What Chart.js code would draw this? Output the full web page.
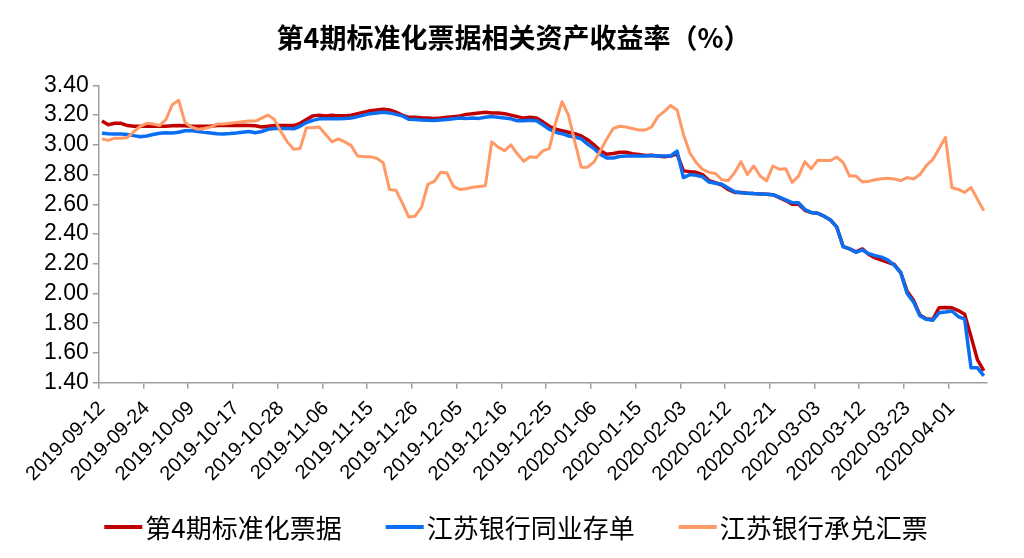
<!DOCTYPE html>
<html>
<head>
<meta charset="utf-8">
<script src="https://cdn.jsdelivr.net/npm/chart.js@4.4.0/dist/chart.umd.min.js"></script>
<style>
  html, body { margin: 0; padding: 0; background: #fff; }
  #wrap { width: 1024px; height: 558px; }
</style>
</head>
<body>
<div id="wrap"><canvas id="chart" width="1024" height="558"></canvas></div>
<script>
// Tick labels, one every 7 trading days
const tickLabels = ['2019-09-12', '2019-09-24', '2019-10-09', '2019-10-17', '2019-10-28',
  '2019-11-06', '2019-11-15', '2019-11-26', '2019-12-05', '2019-12-16', '2019-12-25',
  '2020-01-06', '2020-01-15', '2020-02-03', '2020-02-12', '2020-02-21', '2020-03-03',
  '2020-03-12', '2020-03-23', '2020-04-01'];

const seriesNames = ['第4期标准化票据', '江苏银行同业存单', '江苏银行承兑汇票'];

// 第4期标准化票据
const red = [
  3.16, 3.135, 3.145, 3.145, 3.13, 3.125, 3.125, 3.125, 3.125, 3.125,
  3.125, 3.128, 3.13, 3.128, 3.125, 3.125, 3.125, 3.125, 3.13, 3.13,
  3.13, 3.13, 3.132, 3.13, 3.128, 3.12, 3.125, 3.13, 3.13, 3.13,
  3.13, 3.145, 3.17, 3.195, 3.20, 3.195, 3.20, 3.195, 3.195, 3.20,
  3.21, 3.22, 3.23, 3.235, 3.24, 3.235, 3.22, 3.20, 3.185, 3.185,
  3.182, 3.18, 3.178, 3.18, 3.185, 3.19, 3.195, 3.205, 3.21, 3.215,
  3.22, 3.215, 3.215, 3.21, 3.20, 3.19, 3.18, 3.185, 3.18, 3.155,
  3.125, 3.105, 3.095, 3.085, 3.075, 3.06, 3.035, 3.00, 2.96, 2.937,
  2.942, 2.95, 2.95, 2.94, 2.935, 2.928, 2.93, 2.925, 2.92, 2.925,
  2.94, 2.825, 2.82, 2.815, 2.80, 2.76, 2.745, 2.73, 2.70, 2.68,
  2.68, 2.675, 2.672, 2.67, 2.668, 2.665, 2.645, 2.625, 2.60, 2.60,
  2.56, 2.545, 2.54, 2.52, 2.495, 2.446, 2.315, 2.30, 2.28, 2.30,
  2.262, 2.24, 2.225, 2.21, 2.195, 2.14, 2.015, 1.955, 1.855, 1.83,
  1.825, 1.904, 1.905, 1.904, 1.885, 1.86, 1.71, 1.555, 1.48
];

// 江苏银行同业存单
const blue = [
  3.078, 3.075, 3.073, 3.073, 3.07, 3.062, 3.055, 3.06, 3.07, 3.078,
  3.082, 3.08, 3.085, 3.095, 3.096, 3.09, 3.084, 3.08, 3.075, 3.073,
  3.076, 3.08, 3.085, 3.09, 3.082, 3.09, 3.105, 3.11, 3.11, 3.11,
  3.108, 3.125, 3.15, 3.165, 3.175, 3.175, 3.175, 3.176, 3.177, 3.18,
  3.19, 3.20, 3.21, 3.215, 3.22, 3.215, 3.205, 3.195, 3.172, 3.17,
  3.167, 3.165, 3.164, 3.168, 3.17, 3.175, 3.18, 3.178, 3.18, 3.178,
  3.186, 3.19, 3.185, 3.18, 3.175, 3.162, 3.162, 3.165, 3.162, 3.135,
  3.105, 3.085, 3.075, 3.06, 3.053, 3.04, 3.005, 2.975, 2.935, 2.912,
  2.912, 2.922, 2.925, 2.925, 2.925, 2.925, 2.928, 2.925, 2.925, 2.925,
  2.958, 2.78, 2.80, 2.795, 2.785, 2.75, 2.742, 2.735, 2.71, 2.685,
  2.678, 2.675, 2.672, 2.67, 2.668, 2.665, 2.648, 2.63, 2.612, 2.61,
  2.565, 2.545, 2.54, 2.52, 2.495, 2.446, 2.315, 2.30, 2.277, 2.293,
  2.268, 2.255, 2.245, 2.225, 2.19, 2.14, 2.00, 1.944, 1.85, 1.826,
  1.82, 1.87, 1.875, 1.882, 1.845, 1.828, 1.50, 1.50, 1.446
];

// 江苏银行承兑汇票
const orange = [
  3.04, 3.03, 3.045, 3.045, 3.05, 3.09, 3.125, 3.145, 3.14, 3.13,
  3.17, 3.27, 3.30, 3.15, 3.12, 3.105, 3.11, 3.12, 3.14, 3.14,
  3.145, 3.15, 3.155, 3.16, 3.16, 3.18, 3.20, 3.17, 3.09, 3.02,
  2.97, 2.975, 3.115, 3.115, 3.12, 3.07, 3.02, 3.04, 3.02, 2.995,
  2.925, 2.92, 2.92, 2.91, 2.88, 2.70, 2.695, 2.61, 2.515, 2.52,
  2.58, 2.735, 2.755, 2.815, 2.81, 2.72, 2.70, 2.705, 2.715, 2.72,
  2.725, 3.02, 2.985, 2.96, 3.00, 2.94, 2.89, 2.92, 2.915, 2.96,
  2.975, 3.15, 3.29, 3.20, 3.02, 2.85, 2.85, 2.885, 2.96, 3.04,
  3.11, 3.125, 3.12, 3.11, 3.10, 3.10, 3.12, 3.19, 3.225, 3.265,
  3.235, 3.07, 2.945, 2.88, 2.835, 2.815, 2.807, 2.765, 2.76, 2.813,
  2.887, 2.80, 2.858, 2.79, 2.758, 2.858, 2.836, 2.84, 2.747, 2.79,
  2.887, 2.84, 2.896, 2.895, 2.895, 2.918, 2.88, 2.79, 2.79, 2.75,
  2.755, 2.765, 2.772, 2.775, 2.77, 2.76, 2.78, 2.77, 2.80, 2.86,
  2.90, 2.975, 3.05, 2.713, 2.70, 2.68, 2.713, 2.635, 2.557
];

const TICK_EVERY = 7;
const categories = red.map((_, i) => i % TICK_EVERY === 0 ? tickLabels[i / TICK_EVERY] : '');

const axisColor = '#a0a0a0';
const cjkFont = '"Noto Sans CJK SC", "Noto Sans", sans-serif';
const latinFont = '"Liberation Sans", Arial, sans-serif';

// Legend drawn under the axis labels: short line + text, centred
const bottomLegend = {
  id: 'bottomLegend',
  afterDraw(chart) {
    const ctx = chart.ctx;
    const sets = chart.data.datasets;
    const lineLen = 38, gap = 3, itemGap = 44, y = 527;
    ctx.save();
    ctx.font = '26px ' + cjkFont;
    ctx.textBaseline = 'middle';
    const widths = sets.map(d => ctx.measureText(d.label).width);
    const total = widths.reduce((a, w) => a + lineLen + gap + w, 0) + itemGap * (sets.length - 1);
    let x = (chart.width - total) / 2 + 4;
    sets.forEach((d, i) => {
      ctx.strokeStyle = d.borderColor;
      ctx.lineWidth = 4;
      ctx.beginPath();
      ctx.moveTo(x, y);
      ctx.lineTo(x + lineLen, y);
      ctx.stroke();
      x += lineLen + gap;
      ctx.fillStyle = '#000';
      ctx.fillText(d.label, x, y + 1);
      x += widths[i] + itemGap;
    });
    ctx.restore();
  }
};

new Chart(document.getElementById('chart'), {
  type: 'line',
  data: {
    labels: categories,
    datasets: [
      { label: seriesNames[0], data: red, borderColor: '#C00000', borderWidth: 3.5, order: 3 },
      { label: seriesNames[1], data: blue, borderColor: '#0A6EF2', borderWidth: 3.5, order: 2 },
      { label: seriesNames[2], data: orange, borderColor: '#FF9966', borderWidth: 3, order: 1 }
    ]
  },
  options: {
    responsive: false,
    devicePixelRatio: 1,
    animation: false,
    layout: { padding: { left: 40, right: 37, top: 0, bottom: 64 } },
    elements: {
      point: { radius: 0 },
      line: { tension: 0, borderJoinStyle: 'round', fill: false }
    },
    scales: {
      x: {
        type: 'category',
        offset: true,
        grid: {
          offset: true,
          drawOnChartArea: false,
          tickLength: 6,
          lineWidth: 1.5,
          color: ctx => (ctx.index !== undefined && ctx.index % TICK_EVERY === 0) ? axisColor : 'rgba(0,0,0,0)'
        },
        border: { color: axisColor, width: 1.5 },
        ticks: {
          autoSkip: false,
          minRotation: 45,
          maxRotation: 45,
          padding: 8,
          color: '#000',
          font: { family: latinFont, size: 20 },
          callback: (v, i) => i % TICK_EVERY === 0 ? tickLabels[i / TICK_EVERY] : ''
        }
      },
      y: {
        min: 1.4,
        max: 3.4,
        ticks: {
          count: 11,
          maxTicksLimit: 20,
          padding: 4,
          color: '#000',
          font: { family: latinFont, size: 23, lineHeight: 1 },
          callback: v => v.toFixed(2)
        },
        grid: { drawOnChartArea: false, tickLength: 6, lineWidth: 1.5, color: axisColor },
        border: { color: axisColor, width: 1.5 }
      }
    },
    plugins: {
      legend: { display: false },
      tooltip: { enabled: false },
      title: {
        display: true,
        text: '第4期标准化票据相关资产收益率（%）',
        color: '#000',
        font: { family: cjkFont, size: 27, weight: 'bold' },
        padding: { top: 22, bottom: 31 }
      }
    }
  },
  plugins: [bottomLegend]
});
</script>
</body>
</html>
